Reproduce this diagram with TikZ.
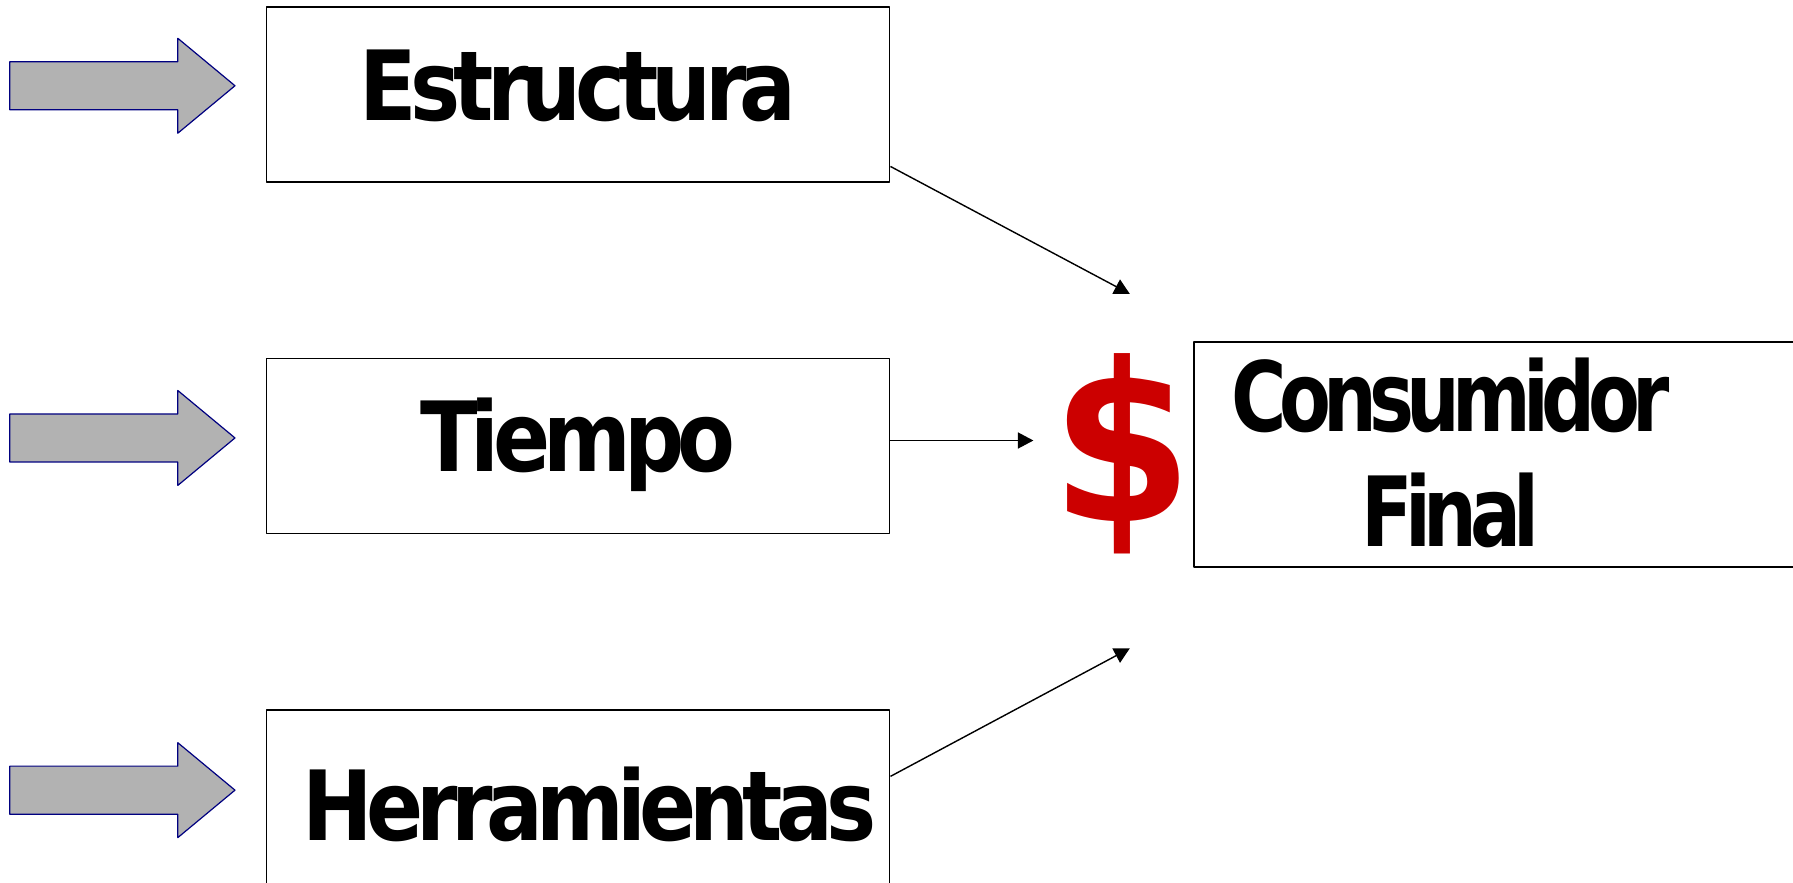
\documentclass[tikz,border=0pt]{standalone}
\usepackage{fontspec}
\usetikzlibrary{arrows.meta}
\newfontfamily\boxfont{DejaVu Sans}[FakeStretch=0.87,LetterSpace=-7]
\newfontfamily\consfont{DejaVu Sans}[FakeStretch=0.78,LetterSpace=-8]
\newfontfamily\signfont{DejaVu Sans}[FakeStretch=0.92]
\definecolor{arrowgray}{HTML}{B2B2B2}
\definecolor{arrownavy}{HTML}{000080}
\definecolor{moneyred}{HTML}{CC0000}
\tikzset{
  box/.style={draw, line width=0.8pt, inner sep=0pt, minimum width=10.9cm},
  blockarrow/.style={fill=arrowgray, draw=arrownavy, line width=0.6pt},
  link/.style={->, line width=0.7pt},
  bigword/.style={font=\boxfont\bfseries\fontsize{48.2}{58}\selectfont, text height=38.6pt, text depth=13pt}
}
\begin{document}
\begin{tikzpicture}[>={Triangle[length=0.27cm,width=0.28cm]}, line join=round]
  \useasboundingbox (0,0) rectangle (31.36,15.44);
  % gray arrows at the left
  \foreach \y in {13.94,7.78,1.62}
    \draw[blockarrow] (0.17,\y+0.42) -- (3.11,\y+0.42) -- (3.11,\y+0.83)
      -- (4.11,\y) -- (3.11,\y-0.83) -- (3.11,\y-0.42) -- (0.17,\y-0.42) -- cycle;
  % the three boxes
  \node[box, bigword, minimum height=3.06cm] (estr) at (10.11,13.79) {Estructura};
  \node[box, bigword, minimum height=3.06cm] (tiem) at (10.11,7.64) {Tiempo};
  \node[box, bigword, minimum height=3.66cm] (herr) at (10.11,1.19) {\hspace{0.4cm}Herramientas};
  % money and consumer
  \node[text=moneyred, inner sep=0pt, font=\signfont\bfseries\fontsize{110}{120}\selectfont] (money) at (19.63,7.51) {\$};
  \node[box, minimum width=11.12cm, minimum height=3.93cm] (consbox) at (26.44,7.49) {};
  \node[align=center, inner sep=0pt, font=\consfont\bfseries\fontsize{48.2}{57.3}\selectfont] (cons) at (25.37,7.52) {Consumidor\\Final};
  \coordinate (inA) at (19.76,10.30);
  \coordinate (inB) at ([xshift=2.5cm]tiem.1.4);
  \coordinate (inC) at (19.76,4.10);
  \draw[link] (estr.-13) -- (inA);
  \draw[link] (tiem.1.4) -- (inB);
  \draw[link] (herr.7.6) -- (inC);
\end{tikzpicture}
\end{document}
